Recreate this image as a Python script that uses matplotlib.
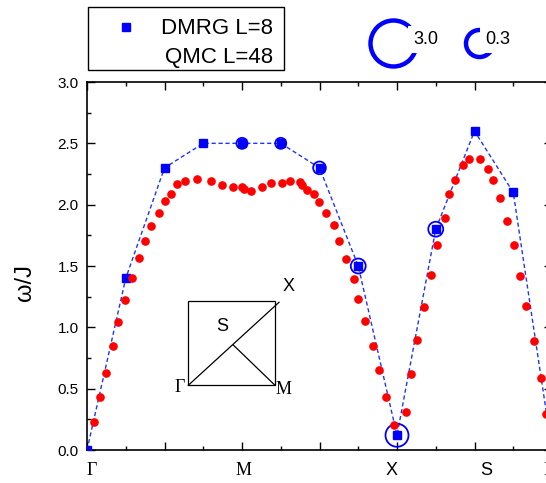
import matplotlib
matplotlib.use("Agg")
import matplotlib.pyplot as plt
from matplotlib.lines import Line2D
from matplotlib.patches import Rectangle
from matplotlib.ticker import MultipleLocator

SANS = "Liberation Sans"
SERIF = "Liberation Serif"
plt.rcParams["font.family"] = [SANS, "DejaVu Sans"]

# ---------------- data ----------------
# DMRG L=8 excitation energies along the path (x in path units)
dmrg_k = [0, 1, 2, 3, 4, 5, 6, 7, 8, 9, 10, 11, 12]
dmrg_w = [0.0, 1.40, 2.30, 2.50, 2.50, 2.50, 2.30, 1.50, 0.12, 1.80, 2.60, 2.10, 0.0]

# spectral weights (open circles) on some DMRG points
weight_k = [4, 5, 6, 7, 8, 9]
weight_w = [2.50, 2.50, 2.30, 1.50, 0.12, 1.80]
weight_v = [0.0061, 0.0061, 0.0114, 0.023, 0.149, 0.023]

# QMC L=48 dispersion
qmc_k = [0.18, 0.335, 0.48, 0.67, 0.81, 0.97, 1.16, 1.33, 1.50, 1.65, 1.85, 2.01,
         2.18, 2.31, 2.53, 2.83, 3.19, 3.49, 3.76, 4.01, 4.06, 4.22, 4.52, 4.74,
         5.03, 5.23, 5.50, 5.54, 5.69, 5.86, 5.99, 6.16, 6.37, 6.51, 6.68, 6.89,
         7.00, 7.17, 7.38, 7.53, 7.71, 7.92, 8.22, 8.37, 8.52, 8.69, 8.89, 9.03,
         9.23, 9.34, 9.50, 9.70, 9.86, 10.15, 10.35, 10.49, 10.66, 10.85, 11.01,
         11.17, 11.34, 11.54, 11.72, 11.84]
qmc_w = [0.225, 0.43, 0.63, 0.845, 1.04, 1.22, 1.40, 1.565, 1.705, 1.83, 1.93, 2.03,
         2.09, 2.165, 2.195, 2.21, 2.195, 2.16, 2.14, 2.145, 2.13, 2.11, 2.145, 2.175,
         2.175, 2.195, 2.185, 2.16, 2.12, 2.09, 2.025, 1.935, 1.835, 1.705, 1.56, 1.39,
         1.23, 1.05, 0.85, 0.655, 0.435, 0.205, 0.31, 0.62, 0.90, 1.165, 1.43, 1.67,
         1.89, 2.085, 2.20, 2.32, 2.37, 2.37, 2.29, 2.20, 2.055, 1.87, 1.67,
         1.42, 1.175, 0.885, 0.59, 0.295]

legend_weights = [3.0, 0.3]
legend_weight_labels = ["3.0", "0.3"]

path_labels = ["Γ", "M", "X", "S", "Γ"]
path_label_k = [0.12, 4.03, 7.85, 10.31, 11.92]
path_label_serif = [True, True, False, False, True]

y_ticks = [0.0, 0.5, 1.0, 1.5, 2.0, 2.5, 3.0]


def bubble_ms(v):
    """diameter (points) of the weight circle"""
    return 0.72 * 46 * (v / 3.0) ** 0.231


# ---------------- figure ----------------
W, H = 546, 483
fig = plt.figure(figsize=(W / 100, H / 100), dpi=100)
ax = fig.add_axes([87 / W, 33 / H, 465 / W, 368 / H])

ax.plot(dmrg_k, dmrg_w, linestyle=(0, (3, 2)), color="#2233ff", lw=1.0, zorder=2)
ax.plot(dmrg_k, dmrg_w, linestyle="none", marker="s", ms=6.3, color="blue", zorder=3)
ax.scatter(weight_k, weight_w, s=[bubble_ms(v) ** 2 for v in weight_v],
           facecolors="none", edgecolors="blue", linewidths=1.3, zorder=4)
ax.plot(qmc_k, qmc_w, linestyle="none", marker="o", ms=5.2, color="red", zorder=5)

ax.set_xlim(0, 12)
ax.set_ylim(0, 3)
ax.xaxis.set_major_locator(MultipleLocator(2))
ax.xaxis.set_minor_locator(MultipleLocator(1))
ax.set_xticklabels([])
ax.set_yticks(y_ticks)
ax.set_yticklabels([f"{t:.1f}" for t in y_ticks])
ax.yaxis.set_minor_locator(MultipleLocator(0.25))
ax.tick_params(which="both", direction="in", top=True, right=True, width=1.0)
ax.tick_params(which="major", length=5.5)
ax.tick_params(which="minor", length=3.2)
ax.tick_params(axis="y", labelsize=11, pad=6)
for sp in ax.spines.values():
    sp.set_linewidth(1.2)

ax.set_ylabel("ω/J", fontsize=17)
ax.yaxis.set_label_coords(-0.11, 0.454)

trans = ax.get_xaxis_transform()
for lab, k, serif in zip(path_labels, path_label_k, path_label_serif):
    ax.text(k, -0.057, lab, transform=trans, ha="center", va="center",
            fontsize=13, family=[SERIF] if serif else [SANS], clip_on=False)

# ---------------- inset (Brillouin zone sketch) ----------------
ta = ax.transAxes
ax.add_patch(Rectangle((0.2178, 0.1758), 0.4043 - 0.2178, 0.4049 - 0.1758,
                       transform=ta, fill=False, ec="black", lw=0.9, zorder=1))
ax.add_line(Line2D([0.2178, 0.4129], [0.1758, 0.4014], transform=ta, color="black", lw=0.9))
ax.add_line(Line2D([0.3146, 0.4043], [0.2853, 0.1758], transform=ta, color="black", lw=0.9))
ax.text(0.4329, 0.4438, "X", transform=ta, ha="center", va="center", fontsize=13)
ax.text(0.2918, 0.3351, "S", transform=ta, ha="center", va="center", fontsize=13)
ax.text(0.199, 0.170, "Γ", transform=ta, ha="center", va="center", fontsize=13, family=[SERIF])
ax.text(0.4222, 0.1640, "M", transform=ta, ha="center", va="center", fontsize=13, family=[SERIF])

# ---------------- legend box ----------------
ft = fig.transFigure
fig.add_artist(Rectangle((87.7 / W, 1 - 70 / H), (284.3 - 87.7) / W, (70 - 7.3) / H,
                         transform=ft, fill=False, ec="black", lw=1.0))
fig.add_artist(Line2D([126 / W], [1 - 26.7 / H], transform=ft, marker="s",
                      ms=5.6, color="blue", linestyle="none"))
fig.text(273 / W, 1 - 34.3 / H, "DMRG L=8", ha="right", va="baseline", fontsize=16)
fig.text(273 / W, 1 - 63.3 / H, "QMC L=48", ha="right", va="baseline", fontsize=16)

# weight-scale legend
cx = [392.8 / W, 478.5 / W]
tx = [413 / W, 485 / W]
for v, c, t, lab in zip(legend_weights, cx, tx, legend_weight_labels):
    fig.add_artist(Line2D([c], [1 - 42.5 / H], transform=ft, marker="o",
                          ms=bubble_ms(v), mfc="none", mec="blue", mew=3.2,
                          linestyle="none", zorder=5))
    fig.text(t, 1 - 39.5 / H, lab, ha="left", va="center", fontsize=13, zorder=6,
             bbox=dict(fc="white", ec="none", pad=3.5))

fig.savefig("out.png", dpi=100)
